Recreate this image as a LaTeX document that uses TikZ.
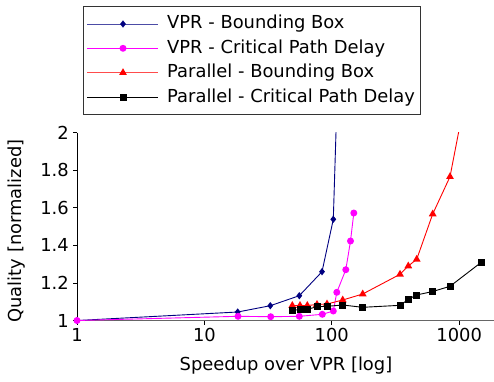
\documentclass[tikz,border=0pt]{standalone}
\usepackage{fontspec}
\setmainfont{DejaVu Sans}
\usetikzlibrary{shapes.geometric}
\definecolor{navyc}{RGB}{0,0,128}
\definecolor{magc}{RGB}{255,0,255}
\tikzset{
  dmark/.style={diamond,fill=navyc,inner sep=0pt,minimum width=6pt,minimum height=7.5pt},
  cmark/.style={circle,fill=magc,inner sep=0pt,minimum size=7pt},
  tmark/.style={regular polygon,regular polygon sides=3,fill=red,inner sep=0pt,minimum size=9pt},
  smark/.style={rectangle,fill=black,inner sep=0pt,minimum size=7pt},
  ser/.style={line width=0.9pt},
  lbl/.style={font=\fontsize{17.9}{21}\selectfont,inner sep=0pt},
}
\begin{document}
\begin{tikzpicture}[x=1pt,y=-1pt]
\useasboundingbox (0,0) rectangle (494,381);
% axes
\draw[gray!80!black,line width=1pt] (77,320.5) -- (494,320.5);
\draw[black,line width=0.9pt] (77,132.5) -- (77,320.5);
% y ticks
\foreach \q/\t in {0/1,0.2/1.2,0.4/1.4,0.6/1.6,0.8/1.8,1/2}{
  \draw[line width=0.8pt] (73,{320.5-188*\q}) -- (77,{320.5-188*\q});
  \node[lbl,anchor=east] (yt\t) at (69,{320.5-188*\q}) {\t};
}
% x ticks
\foreach \k/\t in {0/1,1/10,2/100,3/1000}{
  \draw[line width=0.8pt] ({77+127.4*\k},320.5) -- ({77+127.4*\k},324.5);
  \node[lbl,anchor=north] (xt\t) at ({77+127.4*\k},328.5) {\t};
}
\node[lbl] (xlab) at (286,366) {Speedup over VPR [log]};
\node[lbl,rotate=90] (ylab) at (17,231) {Quality [normalized]};
% data coordinates
\coordinate (b1) at (77,320.5);
\coordinate (b2) at (237.7,312);
\coordinate (b3) at (270.3,305.7);
\coordinate (b4) at (299.3,295.7);
\coordinate (b5) at (322,271.7);
\coordinate (b6) at (333.3,219.3);
\coordinate (b7) at (341.8,-56);
\coordinate (m1) at (77,320.5);
\coordinate (m2) at (238,316.3);
\coordinate (m3) at (270.7,316.7);
\coordinate (m4) at (299.3,316.3);
\coordinate (m5) at (322.3,314.3);
\coordinate (m6) at (333.3,311);
\coordinate (m7) at (336.8,292.3);
\coordinate (m8) at (345.8,269.7);
\coordinate (m9) at (350.5,241);
\coordinate (m10) at (353.8,213);
\coordinate (r1) at (292.3,305.5);
\coordinate (r2) at (300,305.5);
\coordinate (r3) at (307.3,305.5);
\coordinate (r4) at (317,304.5);
\coordinate (r5) at (327,304);
\coordinate (r6) at (342.7,300);
\coordinate (r7) at (362.7,294);
\coordinate (r8) at (400,274.3);
\coordinate (r9) at (408.3,266);
\coordinate (r10) at (416.7,259.3);
\coordinate (r11) at (432.7,214);
\coordinate (r12) at (450,176.7);
\coordinate (r13) at (467.4,86.7);
\coordinate (k1) at (292.3,310.7);
\coordinate (k2) at (300,309.3);
\coordinate (k3) at (307.3,309.3);
\coordinate (k4) at (317,306.7);
\coordinate (k5) at (327,306.3);
\coordinate (k6) at (342.7,305);
\coordinate (k7) at (362.7,307.3);
\coordinate (k8) at (400.3,305.3);
\coordinate (k9) at (408.3,299.3);
\coordinate (k10) at (416.5,295);
\coordinate (k11) at (432.7,291.5);
\coordinate (k12) at (450,286.3);
\coordinate (k13) at (481,262.5);
\begin{scope}
\clip (70,132.5) rectangle (494,330);
\draw[ser,navyc] (b1)--(b2)--(b3)--(b4)--(b5)--(b6)--(b7);
\foreach \p in {b1,b2,b3,b4,b5,b6} \node[dmark] at (\p) {};
\draw[ser,magc] (m1)--(m2)--(m3)--(m4)--(m5)--(m6)--(m7)--(m8)--(m9)--(m10);
\foreach \p in {m1,m2,m3,m4,m5,m6,m7,m8,m9,m10} \node[cmark] at (\p) {};
\draw[ser,red] (r1)--(r2)--(r3)--(r4)--(r5)--(r6)--(r7)--(r8)--(r9)--(r10)--(r11)--(r12)--(r13);
\foreach \p in {r1,r2,r3,r4,r5,r6,r7,r8,r9,r10,r11,r12} \node[tmark] at (\p) {};
\draw[ser,black] (k1)--(k2)--(k3)--(k4)--(k5)--(k6)--(k7)--(k8)--(k9)--(k10)--(k11)--(k12)--(k13);
\foreach \p in {k1,k2,k3,k4,k5,k6,k7,k8,k9,k10,k11,k12,k13} \node[smark] at (\p) {};
\end{scope}
% legend
\draw[fill=white,draw=black!80,line width=0.8pt] (83,6.5) rectangle (420,114.5);
\coordinate (la1) at (87,24); \coordinate (lb1) at (158,24);
\coordinate (la2) at (87,48.3); \coordinate (lb2) at (158,48.3);
\coordinate (la3) at (87,72.7); \coordinate (lb3) at (158,72.7);
\coordinate (la4) at (87,97.3); \coordinate (lb4) at (158,97.3);
\draw[ser,navyc!70] (la1) -- (lb1); \node[dmark] at (123,24) {};
\draw[ser,magc] (la2) -- (lb2); \node[cmark] at (123,48.3) {};
\draw[ser,red!70] (la3) -- (lb3); \node[tmark] at (123,72.7) {};
\draw[ser,black] (la4) -- (lb4); \node[smark] at (123,97.3) {};
\node[lbl,anchor=west] (t1) at (167,24) {VPR - Bounding Box};
\node[lbl,anchor=west] (t2) at (167,48.3) {VPR - Critical Path Delay};
\node[lbl,anchor=west] (t3) at (167,72.7) {Parallel - Bounding Box};
\node[lbl,anchor=west] (t4) at (167,97.3) {Parallel - Critical Path Delay};
\end{tikzpicture}
\end{document}
